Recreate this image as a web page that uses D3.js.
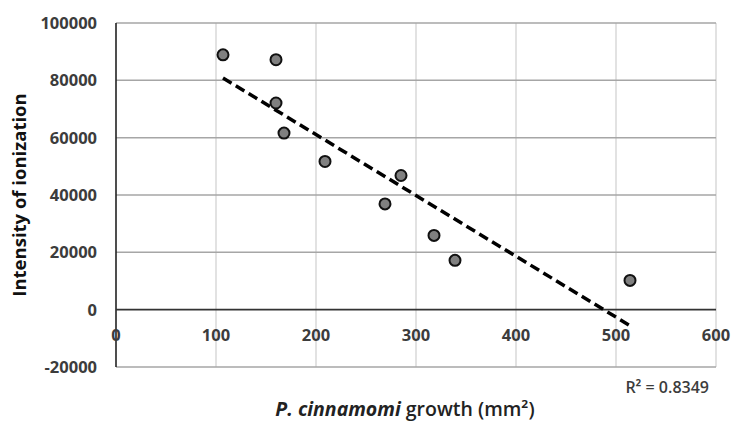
<!DOCTYPE html>
<html><head><meta charset="utf-8">
<script src="https://cdn.jsdelivr.net/npm/d3@7"></script>
<style>
body{margin:0;background:#fff;}
text{font-family:"Open Sans","Liberation Sans",sans-serif;}
</style></head>
<body>
<svg id="c" width="734" height="421"></svg>
<script>
const growth = [107, 160, 160, 168, 209, 269, 285, 318, 339, 514];
const intensity = [88900, 87200, 72100, 61600, 51700, 36900, 46800, 25900, 17200, 10200];
const xTicks = [0, 100, 200, 300, 400, 500, 600];
const yTicks = [-20000, 0, 20000, 40000, 60000, 80000, 100000];
const r2Label = "R² = 0.8349";

const svg = d3.select("#c");
const x = d3.scaleLinear().domain([0, 600]).range([116, 716]);
const y = d3.scaleLinear().domain([-20000, 100000]).range([367, 23]);

// vertical gridlines
svg.append("g").selectAll("line").data(xTicks.filter(d => d !== 0)).join("line")
  .attr("x1", d => x(d)).attr("x2", d => x(d)).attr("y1", y(100000)).attr("y2", y(-20000))
  .attr("stroke", "#d9d9d9").attr("stroke-width", 1.5);
// horizontal gridlines
svg.append("g").selectAll("line").data(yTicks.filter(d => d !== 0)).join("line")
  .attr("x1", x(0)).attr("x2", x(600)).attr("y1", d => y(d)).attr("y2", d => y(d))
  .attr("stroke", "#a6a6a6").attr("stroke-width", 1.5);
// axes lines
svg.append("line").attr("x1", x(0)).attr("x2", x(0)).attr("y1", y(100000)).attr("y2", y(-20000))
  .attr("stroke", "#222").attr("stroke-width", 1.6);
svg.append("line").attr("x1", x(0)).attr("x2", x(600)).attr("y1", y(0)).attr("y2", y(0))
  .attr("stroke", "#333").attr("stroke-width", 1.6);

// y tick labels
svg.append("g").selectAll("text").data(yTicks).join("text")
  .attr("x", 97).attr("y", d => y(d) + 6).attr("text-anchor", "end")
  .attr("font-size", 16.5).attr("font-weight", 700).attr("fill", "#3c3c3c")
  .text(d => d);
// x tick labels
svg.append("g").selectAll("text").data(xTicks).join("text")
  .attr("x", d => x(d)).attr("y", 341).attr("text-anchor", "middle")
  .attr("font-size", 16.5).attr("font-weight", 700).attr("fill", "#3c3c3c")
  .text(d => d);

// trendline (least squares)
const mx = d3.mean(growth), my = d3.mean(intensity);
let sxy = 0, sxx = 0;
growth.forEach((g, i) => { sxy += (g - mx) * (intensity[i] - my); sxx += (g - mx) ** 2; });
const slope = sxy / sxx, icpt = my - slope * mx;
const ext = d3.extent(growth);
svg.append("line")
  .attr("x1", x(ext[0])).attr("y1", y(icpt + slope * ext[0]))
  .attr("x2", x(ext[1])).attr("y2", y(icpt + slope * ext[1]))
  .attr("stroke", "#000").attr("stroke-width", 3.5).attr("stroke-dasharray", "10,5");

// points
svg.append("g").selectAll("circle").data(growth).join("circle")
  .attr("cx", d => x(d)).attr("cy", (d, i) => y(intensity[i])).attr("r", 5.5)
  .attr("fill", "#808080").attr("stroke", "#111").attr("stroke-width", 2);

// R2
svg.append("text").attr("x", 709).attr("y", 393).attr("text-anchor", "end")
  .attr("font-size", 16).attr("font-weight", 600).attr("fill", "#3c3c3c").text(r2Label);

// axis titles
svg.append("text").attr("transform", "translate(26,195) rotate(-90)").attr("text-anchor", "middle")
  .attr("font-size", 18.5).attr("font-weight", 700).attr("fill", "#111").text("Intensity of ionization");
const xt = svg.append("text").attr("x", 405).attr("y", 416).attr("text-anchor", "middle")
  .attr("font-size", 19.5).attr("font-weight", 600).attr("fill", "#222");
xt.append("tspan").attr("font-style", "italic").attr("font-weight", 700).text("P. cinnamomi");
xt.append("tspan").text(" growth (mm²)");
</script>
</body></html>
